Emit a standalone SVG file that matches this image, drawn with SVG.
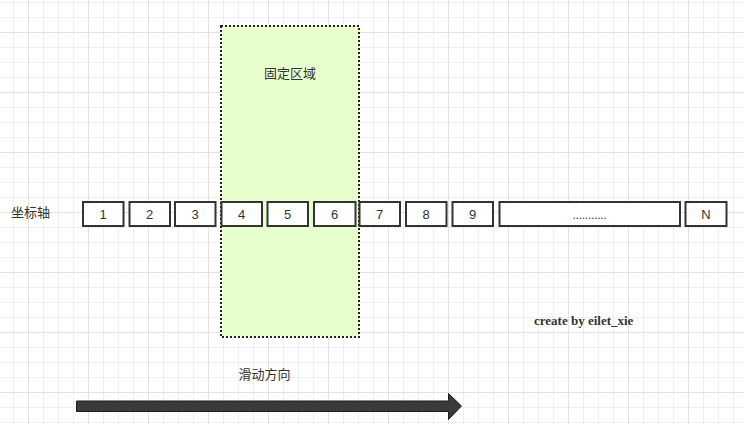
<svg xmlns="http://www.w3.org/2000/svg" width="744" height="424" viewBox="0 0 744 424">
<defs>
<pattern id="minor" patternUnits="userSpaceOnUse" x="13" y="2" width="15" height="15">
<path d="M0.5 0V15M0 0.5H15" fill="none" stroke="#efefef" stroke-width="1"/>
</pattern>
<pattern id="major" patternUnits="userSpaceOnUse" x="28" y="32" width="60" height="60">
<path d="M0.5 0V60M0 0.5H60" fill="none" stroke="#e2e2e2" stroke-width="1"/>
</pattern>
<style>
.cell{fill:#ffffff;stroke:#333333;stroke-width:2}
.num{font-family:"Liberation Sans",Arial,sans-serif;font-size:13px;fill:#333333;text-anchor:middle}
.cjk{font-family:"Liberation Sans","Noto Sans CJK SC",sans-serif;font-size:13px;fill:#333333}
</style>
</defs>
<rect width="744" height="424" fill="#ffffff"/>
<rect width="744" height="424" fill="url(#minor)"/>
<rect width="744" height="424" fill="url(#major)"/>

<g id="fixed-zone">
<rect x="221" y="26" width="138" height="311" fill="#e6ffcc" stroke="#222222" stroke-width="2" stroke-dasharray="2 2"/>
<text class="cjk" x="290" y="78" text-anchor="middle">固定区域</text>
</g>

<g id="axis-label">
<text class="cjk" x="11" y="217">坐标轴</text>
</g>

<g id="cell-1"><rect class="cell" x="83" y="202" width="40.5" height="24"/><text class="num" x="103.2" y="218.5">1</text></g>
<g id="cell-2"><rect class="cell" x="129.5" y="202" width="40.5" height="24"/><text class="num" x="149.7" y="218.5">2</text></g>
<g id="cell-3"><rect class="cell" x="175" y="202" width="40.5" height="24"/><text class="num" x="195.2" y="218.5">3</text></g>
<g id="cell-4"><rect class="cell" x="221.5" y="202" width="40.5" height="24"/><text class="num" x="241.7" y="218.5">4</text></g>
<g id="cell-5"><rect class="cell" x="267.5" y="202" width="40.5" height="24"/><text class="num" x="287.7" y="218.5">5</text></g>
<g id="cell-6"><rect class="cell" x="314" y="202" width="41.5" height="24"/><text class="num" x="334.7" y="218.5">6</text></g>
<g id="cell-7"><rect class="cell" x="359.5" y="202" width="40.5" height="24"/><text class="num" x="379.7" y="218.5">7</text></g>
<g id="cell-8"><rect class="cell" x="406" y="202" width="40.5" height="24"/><text class="num" x="426.2" y="218.5">8</text></g>
<g id="cell-9"><rect class="cell" x="452.5" y="202" width="40.5" height="24"/><text class="num" x="472.7" y="218.5">9</text></g>
<g id="cell-dots"><rect class="cell" x="499.5" y="202" width="180.5" height="24"/><text class="num" x="589.5" y="218.5" style="font-size:12px;letter-spacing:-0.24px">...........</text></g>
<g id="cell-N"><rect class="cell" x="685.5" y="202" width="41" height="24"/><text class="num" x="706" y="218.5">N</text></g>

<g id="credit">
<text x="534" y="325" style="font-family:'Liberation Serif','Times New Roman',serif;font-size:13px;font-weight:bold;fill:#333333">create by eilet_xie</text>
</g>

<g id="direction-label">
<text class="cjk" x="264.5" y="379" text-anchor="middle">滑动方向</text>
</g>

<g id="connectors">
<polygon points="76.5,401 448.5,401 448.5,393.5 461.5,406 448.5,419.5 448.5,411.5 76.5,411.5" fill="#3a3a3a" stroke="#1e1e1e" stroke-width="1"/>
</g>
</svg>
